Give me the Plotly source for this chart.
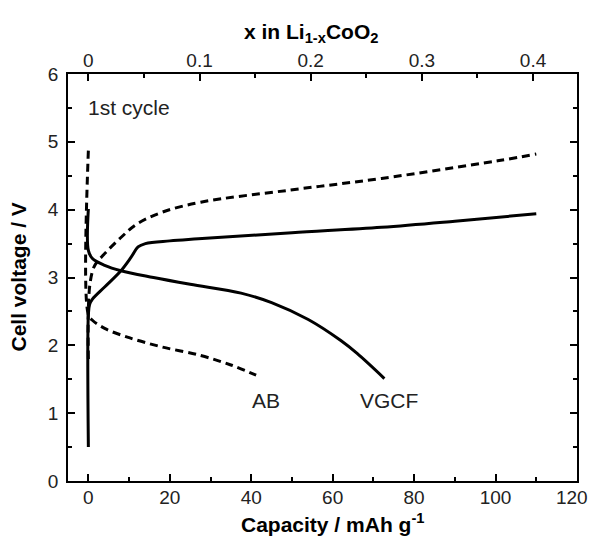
import plotly.graph_objects as go

# ---- data (capacity mAh/g, voltage V) ----
vgcf_charge_cap = [0, 0, 0.3, 1, 4, 8, 10.5, 12.2, 14, 20, 27, 50, 72, 90, 110]
vgcf_charge_v   = [0.5, 2.45, 2.6, 2.68, 2.86, 3.10, 3.30, 3.45, 3.50, 3.54, 3.57, 3.66, 3.74, 3.83, 3.94]

vgcf_dis_cap = [0, 0, 1, 4, 8, 16, 25, 37.5, 45, 54, 62, 66, 72.7]
vgcf_dis_v   = [4.01, 3.40, 3.28, 3.18, 3.10, 3.00, 2.90, 2.77, 2.63, 2.38, 2.07, 1.88, 1.51]

ab_charge_cap = [0, 0, 0.5, 1.5, 3.5, 8, 12, 18, 27.6, 49.7, 72, 100.5, 110]
ab_charge_v   = [1.8, 2.55, 2.95, 3.17, 3.32, 3.59, 3.79, 3.96, 4.11, 4.29, 4.46, 4.72, 4.82]

ab_dis_cap = [0, 0, 1, 4, 9.6, 17.8, 27.6, 35, 41.2]
ab_dis_v   = [4.87, 2.45, 2.37, 2.25, 2.12, 1.98, 1.85, 1.71, 1.56]

x_ticks = [0, 20, 40, 60, 80, 100, 120]
x_tick_labels = ["0", "20", "40", "60", "80", "100", "120\u00a0\u00a0"]
y_ticks = [0, 1, 2, 3, 4, 5, 6]
top_ticks = [0, 0.1, 0.2, 0.3, 0.4]
top_labels = ["0", "0.1", "0.2", "0.3", "0.4"]
theo_cap = 273.0  # mAh/g for x = 1

FONT = "Liberation Sans"
line_solid = dict(color="black", width=3)
line_dash = dict(color="black", width=3, dash="8px,5px")

fig = go.Figure()
fig.add_trace(go.Scatter(x=vgcf_charge_cap, y=vgcf_charge_v, mode="lines", line=line_solid, line_shape="spline"))
fig.add_trace(go.Scatter(x=vgcf_dis_cap, y=vgcf_dis_v, mode="lines", line=line_solid, line_shape="spline"))
fig.add_trace(go.Scatter(x=ab_charge_cap, y=ab_charge_v, mode="lines", line=line_dash, line_shape="spline"))
fig.add_trace(go.Scatter(x=ab_dis_cap, y=ab_dis_v, mode="lines", line=line_dash, line_shape="spline"))
# invisible trace to anchor top axis
fig.add_trace(go.Scatter(x=[0, 0.4], y=[None, None], xaxis="x2", mode="lines", hoverinfo="skip"))

xmin, xmax = -5, 120
axis_common = dict(showline=True, linecolor="black", linewidth=1.5, ticks="inside",
                   ticklen=7, tickwidth=1.5, tickcolor="black", showgrid=False, zeroline=False,
                   ticklabeloverflow="allow",
                   tickfont=dict(family=FONT, size=19, color="#222"))
minor_common = dict(ticks="inside", ticklen=4, tickwidth=1.5, tickcolor="black")

fig.update_layout(
    width=589, height=536,
    margin=dict(l=68, r=12, t=74, b=55, autoexpand=False),
    paper_bgcolor="white", plot_bgcolor="white",
    showlegend=False,
    xaxis=dict(range=[xmin, xmax], tickvals=x_ticks, ticktext=x_tick_labels, mirror=False,
               minor=dict(dtick=10, **minor_common), ticklabelstandoff=-2,
               **axis_common),
    xaxis2=dict(range=[xmin / theo_cap, xmax / theo_cap], overlaying="x", side="top",
                tickvals=top_ticks, ticktext=top_labels, anchor="y",
                minor=dict(dtick=0.05, **minor_common), ticklabelstandoff=-2,
                **axis_common),
    yaxis=dict(range=[0, 6], tickvals=y_ticks, mirror="ticks",
               minor=dict(dtick=0.5, **minor_common), ticklabelstandoff=4,
               **axis_common),
)

title_font = dict(family=FONT, size=21, color="black")
fig.add_annotation(text="<b>x in Li<sub>1-x</sub>CoO<sub>2</sub></b>", xref="paper", yref="paper",
                   x=(0.2 * theo_cap - xmin) / (xmax - xmin), y=1, yshift=41, showarrow=False,
                   font=title_font, xanchor="center", yanchor="middle")
fig.add_annotation(text="<b>Capacity / mAh g<sup>-1</sup></b>", xref="paper", yref="paper",
                   x=(60 - xmin) / (xmax - xmin), y=0, yshift=-42, showarrow=False,
                   font=title_font, xanchor="center", yanchor="middle")
fig.add_annotation(text="<b>Cell voltage / V</b>", xref="paper", yref="paper",
                   x=0, xshift=-50, y=0.5, textangle=-90, showarrow=False,
                   font=title_font, xanchor="center", yanchor="middle")
lab_font = dict(family=FONT, size=21, color="#222")
fig.add_annotation(text="1st cycle", x=-0.6, y=5.5, xanchor="left", yanchor="middle", showarrow=False,
                   font=lab_font)
fig.add_annotation(text="AB", x=43.6, y=1.19, showarrow=False, font=lab_font)
fig.add_annotation(text="VGCF", x=73.8, y=1.19, showarrow=False, font=lab_font)

fig.write_html("out.html", config={"displayModeBar": False},
               post_script="document.body.style.margin='0';document.body.style.overflow='hidden';")
